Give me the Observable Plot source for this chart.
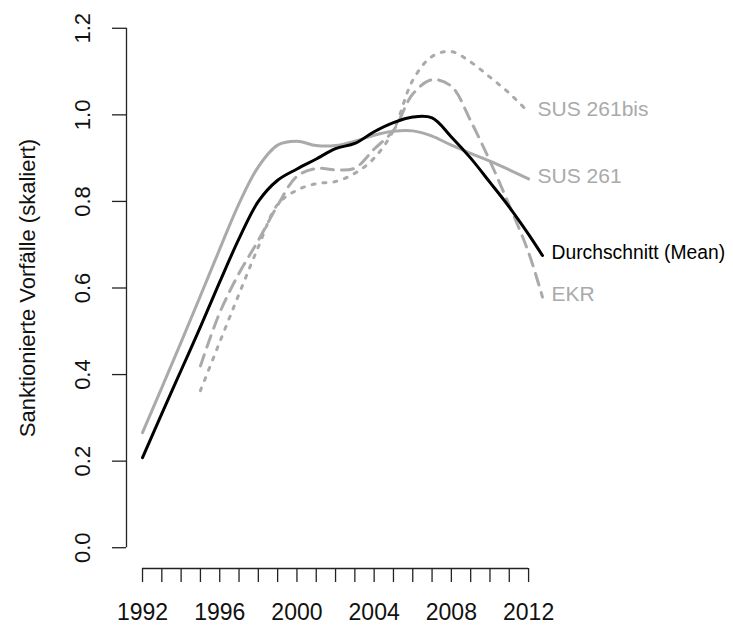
<!DOCTYPE html>
<html><head><meta charset="utf-8">
<script src="https://cdn.jsdelivr.net/npm/d3@7"></script>
<script src="https://cdn.jsdelivr.net/npm/@observablehq/plot@0.6"></script>
<style>body{margin:0;background:#fff} svg{display:block}</style>
</head><body><div id="chart"></div>
<script>
// Data
const yearsSUS261 = [1992,1993,1994,1995,1996,1997,1998,1999,2000,2001,2002,2003,2004,2005,2006,2007,2008,2009,2010,2011,2012];
const valuesSUS261 = [0.266,0.370,0.475,0.582,0.690,0.795,0.880,0.930,0.939,0.929,0.929,0.939,0.953,0.962,0.963,0.951,0.930,0.911,0.893,0.873,0.852];

const yearsSUS261bis = [1995,1996,1997,1998,1999,2000,2001,2002,2003,2004,2005,2006,2007,2008,2009,2010,2011,2012];
const valuesSUS261bis = [0.363,0.475,0.586,0.695,0.793,0.826,0.841,0.846,0.865,0.900,0.964,1.080,1.135,1.146,1.122,1.087,1.050,1.006];

const yearsEKR = [1995,1996,1997,1998,1999,2000,2001,2002,2003,2004,2005,2006,2007,2008,2009,2010,2011,2012,2012.72];
const valuesEKR = [0.420,0.543,0.634,0.710,0.791,0.858,0.876,0.873,0.877,0.921,0.964,1.048,1.081,1.066,0.986,0.893,0.791,0.682,0.579];

const yearsMean = [1992,1993,1994,1995,1996,1997,1998,1999,2000,2001,2002,2003,2004,2005,2006,2007,2008,2009,2010,2011,2012,2012.72];
const valuesMean = [0.208,0.310,0.410,0.510,0.614,0.714,0.800,0.849,0.875,0.898,0.922,0.934,0.961,0.982,0.995,0.993,0.949,0.900,0.844,0.787,0.724,0.675];

const seriesNames = ["SUS 261bis","SUS 261","EKR","Durchschnitt (Mean)"];
const tickYears = [1992,1993,1994,1995,1996,1997,1998,1999,2000,2001,2002,2003,2004,2005,2006,2007,2008,2009,2010,2011,2012];
const labelYears = [1992,1996,2000,2004,2008,2012];
const yTicks = [0,0.2,0.4,0.6,0.8,1.0,1.2];
const yTitle = "Sanktionierte Vorfälle (skaliert)";

function rowsOf(name, xs, vs){ return xs.map((x,i)=>({series:name, year:x, value:vs[i]})); }
const dSUS261bis = rowsOf(seriesNames[0], yearsSUS261bis, valuesSUS261bis);
const dSUS261 = rowsOf(seriesNames[1], yearsSUS261, valuesSUS261);
const dEKR = rowsOf(seriesNames[2], yearsEKR, valuesEKR);
const dMean = rowsOf(seriesNames[3], yearsMean, valuesMean);
const ends = [dSUS261bis, dSUS261, dEKR, dMean].map(d => d[d.length-1]);

const gray = "#aaaaaa";
const font = "Liberation Sans, Arial, Helvetica, sans-serif";
const x0 = 1991.17, x1 = 2013.55, y0 = -0.048, y1 = 1.248;

const chart = Plot.plot({
  width: 733, height: 626,
  marginLeft: 126, marginRight: 175, marginTop: 7, marginBottom: 58,
  x: {domain: [x0, x1], label: null},
  y: {domain: [y0, y1], label: null},
  style: {fontFamily: font, background: "#fff", color: "#111"},
  marks: [
    Plot.axisX({ticks: tickYears, tickSize: 14, tickFormat: () => "", stroke: "#222", strokeWidth: 1.3}),
    Plot.axisY({ticks: yTicks, tickSize: 14, tickFormat: () => "", stroke: "#222", strokeWidth: 1.3}),
    Plot.ruleY([y0], {x1: tickYears[0], x2: tickYears[tickYears.length-1], stroke: "#222", strokeWidth: 1.3}),
    Plot.ruleX([x0], {y1: yTicks[0], y2: yTicks[yTicks.length-1], stroke: "#222", strokeWidth: 1.3}),
    Plot.text(labelYears, {x: d => d, y: y0, text: d => String(d), dy: 44, fontSize: 23, fill: "#111", lineAnchor: "middle", textAnchor: "middle"}),
    Plot.text(yTicks, {x: x0, y: d => d, text: d => d.toFixed(1), dx: -44, rotate: -90, fontSize: 22, fill: "#111", lineAnchor: "middle", textAnchor: "middle"}),
    Plot.text([yTitle], {frameAnchor: "left", dx: -99, rotate: -90, fontSize: 22, fill: "#111", lineAnchor: "middle", textAnchor: "middle"}),
    Plot.line(dSUS261, {x: "year", y: "value", stroke: gray, strokeWidth: 3, curve: "catmull-rom"}),
    Plot.line(dSUS261bis, {x: "year", y: "value", stroke: gray, strokeWidth: 3, strokeDasharray: "3,8", curve: "catmull-rom"}),
    Plot.line(dEKR, {x: "year", y: "value", stroke: gray, strokeWidth: 3, strokeDasharray: "12,8", curve: "catmull-rom"}),
    Plot.line(dMean, {x: "year", y: "value", stroke: "#000", strokeWidth: 3, strokeLinejoin: "round", curve: "catmull-rom"}),
    Plot.text(ends, {x: "year", y: "value", text: "series", textAnchor: "start", lineAnchor: "middle",
      dx: 9, dy: -3,
      fontSize: d => d.series === seriesNames[3] ? 19.3 : 21,
      fill: d => d.series === seriesNames[3] ? "#000" : gray})
  ]
});
document.getElementById("chart").appendChild(chart);
</script>
</body></html>
